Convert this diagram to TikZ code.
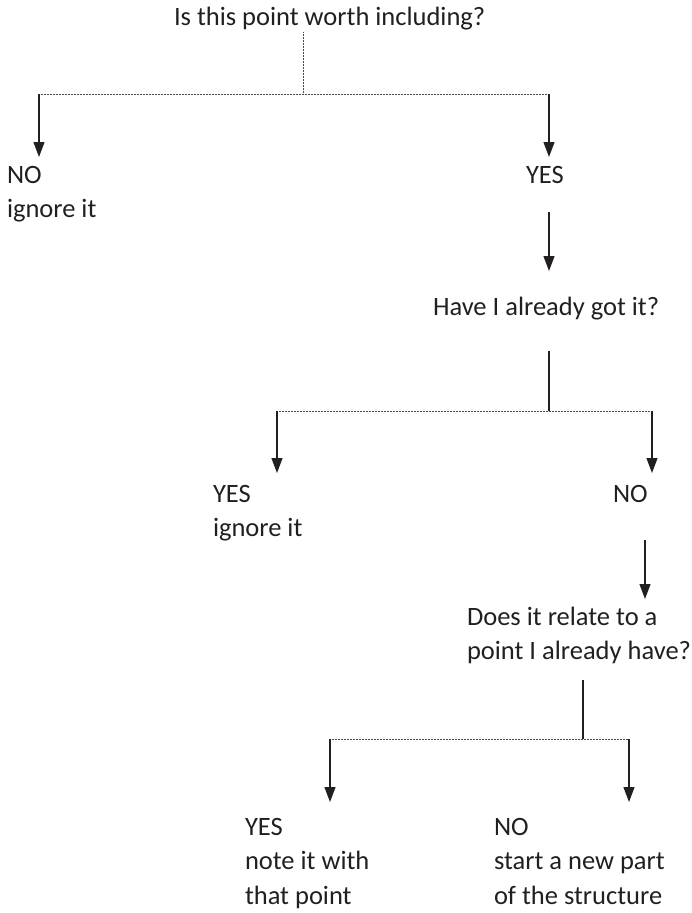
\documentclass[tikz,border=0pt]{standalone}
\usepackage{fontspec}
\setmainfont{Carlito}
\usetikzlibrary{arrows.meta}
\definecolor{ink}{HTML}{231F20}
\newcommand{\stack}[1]{\vtop{\baselineskip=34.5pt\lineskiplimit=0pt\def\nl{\egroup\hbox\bgroup}\hbox\bgroup#1\egroup}}
\begin{document}
\begin{tikzpicture}[x=1pt,y=-1pt,
  label/.style={anchor=base west,inner sep=0pt,outer sep=0pt,text=ink,font=\fontsize{26.5}{34.5}\selectfont},
  dotline/.style={draw=black!70,line width=0.8pt,dash pattern=on 0.8pt off 0.7pt},
  stem/.style={draw=ink,line width=1.2pt},
  arr/.style={stem,-{Triangle[width=11pt,length=15pt]}}]
\useasboundingbox (0,0) rectangle (692,913);
% texts
\node[label] (q1) at (174,25) {Is this point worth including?};
\node[label] (no1) at (7,183) {\stack{NO\nl ignore it}};
\node[label] (yes1) at (526,183) {YES};
\node[label] (q2) at (433,315) {Have I already got it?};
\node[label] (yes2) at (213,502) {\stack{YES\nl ignore it}};
\node[label] (no2) at (613,502) {NO};
\node[label] (q3) at (467,625) {\stack{Does it relate to a\nl point I already have?}};
\node[label] (yes3) at (245,835) {\stack{YES\nl note it with\nl that point}};
\node[label] (no3) at (494,835) {\stack{NO\nl start a new part\nl of the structure}};
% level 1
\coordinate (t1) at (303,32);
\coordinate (h1) at (303,94);
\coordinate (h1l) at (39,94);
\coordinate (h1r) at (549,94);
\coordinate (a1l) at (39,157);
\coordinate (a1r) at (549,157);
\draw[dotline] (t1) -- (h1);
\draw[dotline] (h1l) -- (h1r);
\draw[arr] (h1l) -- (a1l);
\draw[arr] (h1r) -- (a1r);
\coordinate (y1s) at (549,212);
\coordinate (y1e) at (549,271);
\draw[arr] (y1s) -- (y1e);
% level 2
\coordinate (t2) at (549,351);
\coordinate (h2) at (549,411);
\coordinate (h2l) at (277,411);
\coordinate (h2r) at (652,411);
\coordinate (a2l) at (277,473);
\coordinate (a2r) at (652,473);
\draw[stem] (t2) -- (h2);
\draw[dotline] (h2l) -- (h2r);
\draw[arr] (h2l) -- (a2l);
\draw[arr] (h2r) -- (a2r);
\coordinate (n2s) at (645,540);
\coordinate (n2e) at (645,599);
\draw[arr] (n2s) -- (n2e);
% level 3
\coordinate (t3) at (583,680);
\coordinate (h3) at (583,739);
\coordinate (h3l) at (330,739);
\coordinate (h3r) at (629,739);
\coordinate (a3l) at (330,802);
\coordinate (a3r) at (629,802);
\draw[stem] (t3) -- (h3);
\draw[dotline] (h3l) -- (h3r);
\draw[arr] (h3l) -- (a3l);
\draw[arr] (h3r) -- (a3r);
\end{tikzpicture}
\end{document}
